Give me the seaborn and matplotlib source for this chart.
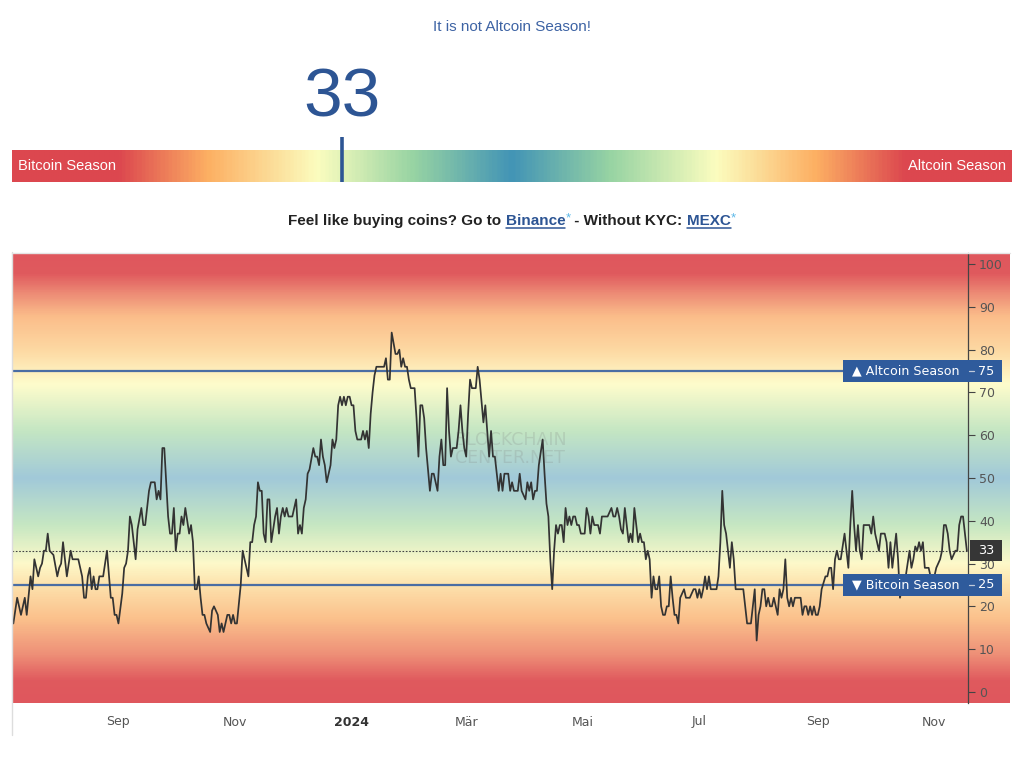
import matplotlib
matplotlib.use("Agg")
import numpy as np
import pandas as pd
import matplotlib.pyplot as plt
import seaborn as sns
import matplotlib.transforms as mtransforms
from matplotlib.colors import LinearSegmentedColormap
from matplotlib.patches import Rectangle
from matplotlib.lines import Line2D

# ===================== DATA =====================
current_value = 33
title_text = "It is not Altcoin Season!"
altcoin_level = 75
bitcoin_level = 25

base_date = pd.Timestamp("2023-07-01")
# days since 2023-07-01 and Altcoin Season Index
days = [
    6, 7, 9, 11, 13, 14, 16, 17, 18, 20, 21, 22, 23, 24, 25, 26, 28, 30, 31, 32,
    33, 35, 37, 38, 40, 41, 43, 44, 45, 46, 47, 48, 49, 50, 51, 52, 54, 56, 58, 59,
    60, 61, 62, 64, 65, 66, 67, 68, 69, 70, 71, 72, 74, 75, 76, 78, 79, 81, 82, 83,
    84, 85, 86, 88, 89, 90, 91, 92, 93, 94, 95, 96, 97, 99, 100, 101, 102, 103, 104, 105,
    106, 107, 108, 110, 111, 112, 114, 115, 116, 117, 119, 120, 121, 122, 123, 124, 126, 127, 128, 129,
    130, 131, 132, 133, 134, 135, 136, 137, 138, 139, 140, 141, 142, 144, 145, 146, 147, 148, 149, 150,
    151, 153, 154, 155, 156, 157, 158, 159, 160, 161, 162, 164, 165, 166, 167, 168, 169, 170, 171, 173,
    174, 175, 176, 177, 178, 179, 180, 181, 182, 183, 184, 185, 186, 187, 189, 190, 191, 192, 193, 194,
    195, 196, 197, 200, 201, 202, 203, 204, 205, 207, 208, 209, 210, 211, 212, 213, 214, 215, 217, 218,
    219, 220, 221, 222, 223, 225, 226, 227, 228, 229, 230, 231, 232, 233, 234, 235, 236, 237, 239, 240,
    241, 242, 243, 244, 245, 246, 247, 249, 250, 251, 253, 254, 255, 256, 257, 258, 259, 260, 261, 262,
    263, 264, 266, 267, 268, 269, 271, 272, 273, 275, 276, 277, 278, 279, 280, 281, 282, 284, 285, 286,
    287, 288, 289, 290, 291, 292, 293, 294, 295, 296, 297, 298, 299, 300, 301, 302, 303, 304, 306, 307,
    308, 309, 310, 311, 313, 314, 315, 317, 318, 320, 321, 322, 323, 324, 325, 326, 327, 328, 329, 330,
    331, 332, 333, 334, 335, 336, 337, 338, 339, 340, 341, 342, 343, 344, 345, 346, 347, 348, 349, 350,
    351, 352, 353, 354, 355, 356, 357, 358, 359, 361, 363, 364, 365, 366, 367, 368, 369, 370, 371, 372,
    373, 375, 376, 377, 378, 379, 380, 381, 382, 383, 384, 385, 387, 389, 390, 391, 392, 393, 395, 396,
    397, 398, 399, 400, 401, 402, 403, 404, 405, 406, 407, 408, 409, 410, 411, 412, 413, 414, 415, 416,
    419, 420, 421, 422, 423, 424, 425, 426, 427, 428, 429, 430, 432, 433, 434, 435, 436, 437, 438, 439,
    440, 442, 443, 444, 445, 446, 447, 448, 449, 450, 451, 452, 453, 455, 456, 457, 458, 459, 460, 461,
    463, 464, 465, 466, 467, 468, 469, 470, 471, 472, 473, 474, 476, 477, 478, 479, 480, 481, 482, 483,
    484, 485, 486, 487, 488, 489, 490, 492, 493, 494, 495, 496, 497, 498, 500, 501, 502, 503, 504, 505,
    506,
]
index = [
    16, 16, 22, 18, 22, 18, 27, 24, 31, 27, 29, 30, 33, 33, 37, 33, 32, 27, 29, 30,
    35, 27, 33, 31, 31, 31, 27, 22, 22, 27, 29, 24, 27, 24, 24, 27, 27, 33, 22, 22,
    18, 18, 16, 23, 29, 30, 33, 41, 39, 35, 31, 38, 43, 39, 39, 47, 49, 49, 45, 47,
    45, 57, 57, 41, 37, 37, 43, 33, 37, 37, 41, 39, 43, 37, 39, 35, 24, 24, 27, 22,
    18, 18, 16, 14, 19, 20, 18, 14, 16, 14, 18, 18, 16, 18, 16, 16, 25, 33, 31, 29,
    27, 35, 35, 39, 41, 49, 47, 47, 37, 35, 45, 45, 35, 41, 43, 37, 41, 43, 41, 43,
    41, 41, 43, 45, 37, 39, 37, 43, 45, 51, 52, 57, 55, 55, 53, 59, 55, 53, 49, 53,
    59, 57, 59, 67, 69, 67, 69, 67, 69, 69, 67, 67, 61, 59, 59, 61, 59, 61, 57, 65,
    70, 74, 76, 76, 76, 78, 73, 73, 84, 79, 79, 80, 76, 78, 76, 76, 73, 71, 71, 64,
    55, 67, 67, 64, 57, 47, 51, 51, 49, 47, 55, 59, 53, 53, 71, 61, 55, 57, 57, 61,
    67, 61, 57, 55, 65, 73, 71, 71, 76, 73, 63, 67, 61, 55, 61, 55, 55, 51, 47, 51,
    47, 51, 51, 47, 49, 47, 47, 51, 47, 45, 49, 47, 49, 45, 47, 47, 53, 59, 51, 44,
    41, 31, 24, 33, 39, 37, 39, 39, 35, 43, 39, 41, 39, 41, 41, 39, 39, 37, 37, 43,
    41, 37, 41, 39, 39, 37, 41, 41, 41, 43, 41, 41, 43, 41, 38, 37, 43, 39, 35, 37,
    35, 43, 39, 35, 37, 35, 35, 31, 33, 31, 22, 27, 24, 24, 27, 20, 18, 18, 20, 20,
    27, 22, 18, 18, 16, 22, 23, 24, 22, 22, 24, 24, 22, 24, 22, 24, 27, 24, 27, 24,
    24, 24, 27, 35, 47, 39, 37, 33, 29, 35, 31, 24, 24, 24, 20, 16, 16, 16, 24, 12,
    18, 20, 24, 24, 20, 22, 20, 20, 22, 20, 18, 24, 22, 24, 31, 22, 20, 22, 20, 22,
    22, 18, 20, 20, 18, 20, 18, 20, 18, 18, 20, 24, 27, 27, 29, 29, 24, 31, 33, 31,
    31, 37, 33, 29, 39, 47, 39, 33, 39, 33, 31, 39, 39, 39, 37, 41, 37, 35, 33, 37,
    37, 35, 29, 35, 29, 33, 37, 31, 22, 24, 24, 27, 33, 29, 31, 34, 33, 35, 33, 35,
    29, 29, 29, 27, 24, 27, 29, 31, 33, 39, 39, 37, 33, 31, 33, 33, 39, 41, 41, 37,
    33,
]

month_ticks = ["2023-09-01", "2023-11-01", "2024-01-01", "2024-03-01",
               "2024-05-01", "2024-07-01", "2024-09-01", "2024-11-01"]
month_labels = ["Sep", "Nov", "2024", "Mär", "Mai", "Jul", "Sep", "Nov"]
y_ticks = list(range(0, 101, 10))

dates = base_date + pd.to_timedelta(days, unit="D")

# ===================== STYLE =====================
W, H = 1024, 760
BLUE = "#2d5594"
LINE_BLUE = "#4a6da3"

sns.set_style("white")
plt.rcParams["font.family"] = ["DejaVu Sans"]
HEAD_FONT = ["Liberation Sans", "DejaVu Sans"]


def box(x0, y0, x1, y1):
    """pixel box (top-left origin) -> figure fraction rect"""
    return [x0 / W, 1 - y1 / H, (x1 - x0) / W, (y1 - y0) / H]


bar_stops = [(0, "#dc474f"), (10.5, "#dc474f"), (19.5, "#fdb063"), (30.5, "#fbfdbf"),
             (40, "#98d4a3"), (50, "#4294b6"), (60, "#98d4a3"), (70.5, "#fbfdbf"),
             (80.5, "#fdb063"), (89.5, "#dc474f"), (100, "#dc474f")]
bar_cmap = LinearSegmentedColormap.from_list(
    "bar", [(p / 100, c) for p, c in bar_stops])

Y0, Y1 = -2.6, 102.6
bg_stops = [(Y0, "#df575d"), (2.5, "#e05a5e"), (8.5, "#ee8f77"), (17, "#fbc18c"),
            (25, "#fde2ad"), (30, "#fdf9ca"), (39, "#c6e7c2"), (50, "#a1c9d9"),
            (61, "#c4e6c3"), (72, "#fefccc"), (80, "#fdd9a3"), (88, "#fbbd8a"),
            (93, "#ee8f77"), (98, "#e05a5e"), (Y1, "#df575d")]
bg_cmap = LinearSegmentedColormap.from_list(
    "bg", [((v - Y0) / (Y1 - Y0), c) for v, c in bg_stops])

fig = plt.figure(figsize=(W / 100, H / 100), dpi=100)
fig.patch.set_facecolor("white")

# ===================== HEADER =====================
fig.text(0.5, 1 - 27 / H, title_text, ha="center", va="center",
         color="#3d63a4", fontsize=11, family=HEAD_FONT)

ax_bar = fig.add_axes(box(12, 150, 1012, 182))
ax_bar.imshow(np.linspace(0, 100, 600).reshape(1, -1), extent=[0, 100, 0, 1],
              aspect="auto", cmap=bar_cmap, vmin=0, vmax=100)
ax_bar.set_xlim(0, 100)
ax_bar.set_ylim(0, 1)
ax_bar.axis("off")
ax_bar.plot([current_value, current_value], [0, 1.41], color=BLUE, lw=2.6,
            clip_on=False, solid_capstyle="butt")
ax_bar.text(current_value, 2.62, str(current_value), ha="center", va="center",
            fontsize=50, color=BLUE, family=HEAD_FONT, clip_on=False)
ax_bar.text(0.6, 0.5, "Bitcoin Season", ha="left", va="center", color="white",
            fontsize=10.5, family=HEAD_FONT)
ax_bar.text(99.4, 0.5, "Altcoin Season", ha="right", va="center", color="white",
            fontsize=10.5, family=HEAD_FONT)

# "Feel like buying coins?" line, built piece by piece
renderer = fig.canvas.get_renderer()
pieces = [("Feel like buying coins? Go to ", "#222222", 11, 0, False),
          ("Binance", BLUE, 11, 0, True),
          ("*", "#5bb8e8", 9.5, 4, False),
          (" - Without KYC: ", "#222222", 11, 0, False),
          ("MEXC", BLUE, 11, 0, True),
          ("*", "#5bb8e8", 9.5, 4, False)]
arts = []
total = 0
for s, col, size, dy, ul in pieces:
    weight = "normal" if s == "*" else "bold"
    t = fig.text(0, 0, s, color=col, fontsize=size, fontweight=weight,
                 family=HEAD_FONT, ha="left", va="baseline")
    w = t.get_window_extent(renderer).width
    arts.append((t, w, dy, ul, col))
    total += w
x = 512 - total / 2
baseline = 225
for t, w, dy, ul, col in arts:
    t.set_position((x / W, 1 - (baseline - dy) / H))
    if ul:
        fig.add_artist(Line2D([x / W, (x + w) / W], [1 - 227.5 / H] * 2,
                              color=col, lw=1.1, transform=fig.transFigure))
    x += w

# ===================== CHART =====================
ax_bg = fig.add_axes(box(12, 253, 1010, 703))
ax_bg.imshow(np.linspace(Y0, Y1, 800).reshape(-1, 1), extent=[0, 1, Y0, Y1],
             origin="lower", aspect="auto", cmap=bg_cmap, vmin=Y0, vmax=Y1)
ax_bg.set_xlim(0, 1)
ax_bg.set_ylim(Y0, Y1)
ax_bg.axis("off")

ax = fig.add_axes(box(12, 253, 968, 703))
ax.patch.set_alpha(0)
trans = mtransforms.blended_transform_factory(ax.transAxes, ax.transData)
ax.axhline(altcoin_level, color=LINE_BLUE, lw=1.6, zorder=1.8)
ax.axhline(bitcoin_level, color=LINE_BLUE, lw=1.6, zorder=1.8)
ax.axhline(current_value, color="#444444", lw=0.8, ls=(0, (1.5, 1.5)), zorder=1.8)
ax.text(0.521, 56.8, "BLOCKCHAIN\nCENTER.NET", transform=trans,
        ha="center", va="center", fontsize=12.5, color="#7a7a7a", alpha=0.2,
        linespacing=0.95, zorder=1.5)

sns.lineplot(x=dates, y=index, ax=ax, color="#333333", linewidth=1.25, zorder=2.2)

ax.set_xlim(base_date + pd.Timedelta(days=6.3), base_date + pd.Timedelta(days=506.6))
ax.set_ylim(Y0, Y1)
ax.set_xlabel("")
ax.set_ylabel("")
ax.grid(False)

ax.yaxis.tick_right()
ax.set_yticks(y_ticks)
ax.tick_params(axis="y", length=5, width=0.8, color="#444444", labelcolor="#555555",
               labelsize=9, pad=3)
ax.set_xticks(pd.to_datetime(month_ticks))
ax.set_xticklabels(month_labels)
ax.tick_params(axis="x", length=0, labelcolor="#555555", labelsize=9, pad=9)
for lbl in ax.get_xticklabels():
    if lbl.get_text() == "2024":
        lbl.set_fontweight("bold")
        lbl.set_color("#333333")
for s in ["top", "left", "bottom"]:
    ax.spines[s].set_visible(False)
ax.spines["right"].set_color("#444444")
ax.spines["right"].set_linewidth(0.9)


# value labels on the right axis
def axx(px):
    return (px - 12) / 956


half = 11 / 4.28
for level, text, x0 in [(altcoin_level, "\u25b2 Altcoin Season", 843),
                        (bitcoin_level, "\u25bc Bitcoin Season", 843)]:
    ax.add_patch(Rectangle((axx(x0), level - half), axx(1002) - axx(x0), 2 * half,
                           transform=trans, facecolor="#2f5b9c", edgecolor="none",
                           clip_on=False, zorder=5))
    ax.text(axx(852), level, text, transform=trans, ha="left", va="center",
            color="white", fontsize=9.1, clip_on=False, zorder=6)
    ax.text(axx(978), level, str(level), transform=trans, ha="left", va="center",
            color="white", fontsize=9.3, clip_on=False, zorder=6)
    ax.add_line(Line2D([axx(969), axx(974)], [level, level], transform=trans,
                       color="#c0cadb", lw=0.9, clip_on=False, zorder=6))

ax.add_patch(Rectangle((axx(970), current_value - half * 0.95), axx(1002) - axx(970),
                       2 * half * 0.95, transform=trans, facecolor="#363636",
                       edgecolor="none", clip_on=False, zorder=5))
ax.text(axx(978), current_value, str(current_value), transform=trans, ha="left",
        va="center", color="white", fontsize=9.3, clip_on=False, zorder=6)

# light frame of the chart container
fig.add_artist(Line2D([12 / W, 12 / W], [1 - 252 / H, 1 - 735 / H], color="#dddddd",
                      lw=1, transform=fig.transFigure))
fig.add_artist(Line2D([12 / W, 1010 / W], [1 - 252.5 / H] * 2, color="#e4e4e4",
                      lw=1, transform=fig.transFigure))

fig.savefig("out.png", dpi=100)
